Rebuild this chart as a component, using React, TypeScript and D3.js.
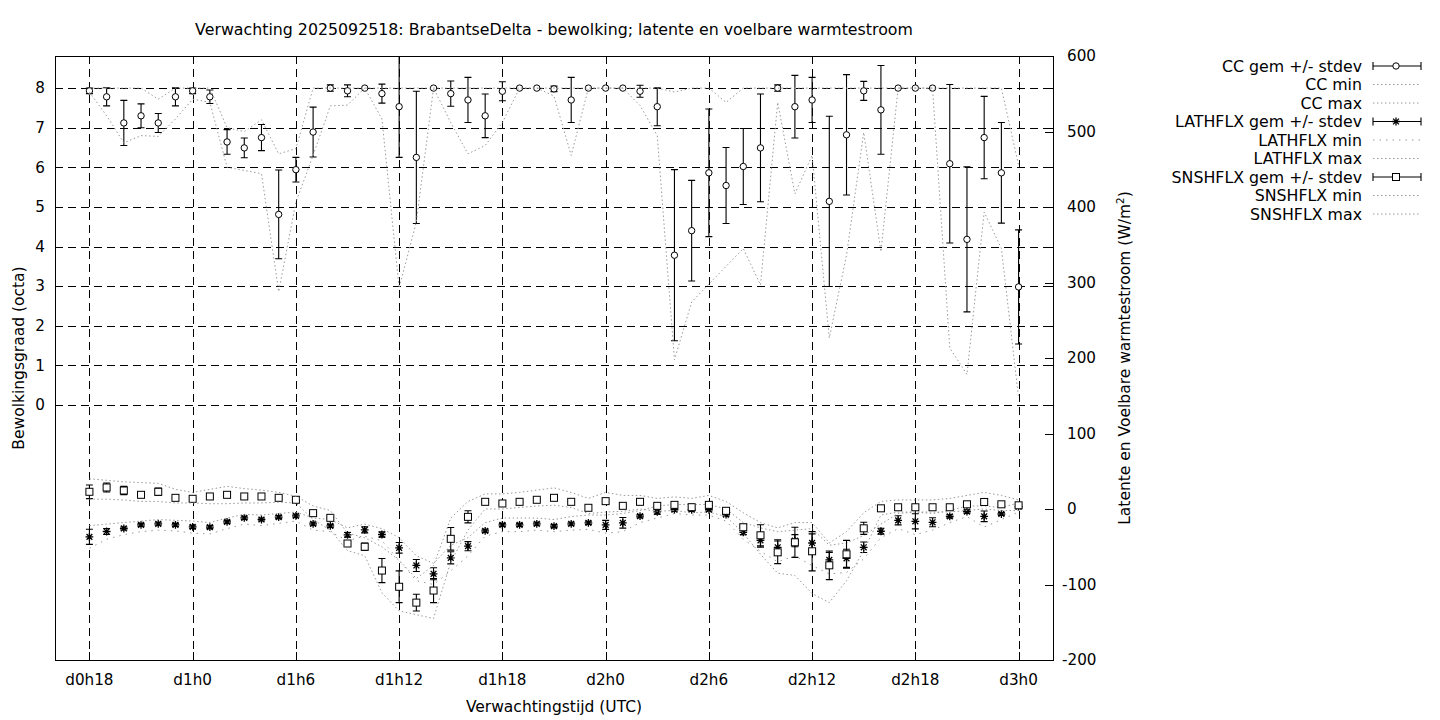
import React from 'react';
import * as d3 from 'd3';

// ---- data (forecast hour since d0h0) ----
const hours = [18,19,20,21,22,23,24,25,26,27,28,29,30,31,32,33,34,35,36,37,38,39,40,41,42,43,44,45,46,47,48,49,50,51,52,53,54,55,56,57,58,59,60,61,62,63,64,65,66,67,68,69,70,71,72];

const xTickHours = [18, 24, 30, 36, 42, 48, 54, 60, 66, 72];
const xTickLabels = ['d0h18', 'd1h0', 'd1h6', 'd1h12', 'd1h18', 'd2h0', 'd2h6', 'd2h12', 'd2h18', 'd3h0'];
const yTicks = [0, 1, 2, 3, 4, 5, 6, 7, 8];
const y2Ticks = [-200, -100, 0, 100, 200, 300, 400, 500, 600];

const ccMean = [7.93,7.78,7.12,7.30,7.12,7.78,7.93,7.78,6.64,6.49,6.75,4.81,5.94,6.89,8.0,7.93,8.0,7.86,7.53,6.25,8.0,7.86,7.70,7.30,7.92,8.0,8.0,7.98,7.70,8.0,8.0,8.0,7.92,7.53,3.78,4.40,5.86,5.54,6.02,6.49,8.0,7.53,7.70,5.14,6.82,7.93,7.45,8.0,8.0,8.0,6.09,4.18,6.75,5.86,2.98];
const ccStd = [0.07,0.23,0.57,0.30,0.24,0.23,0.07,0.17,0.31,0.25,0.33,1.12,0.31,0.63,0.08,0.15,0,0.24,1.28,1.67,0,0.32,0.57,0.55,0.24,0,0,0.07,0.57,0,0,0,0.15,0.48,2.16,1.27,1.61,0.96,0.96,1.36,0.08,0.79,0.57,2.15,1.52,0.24,1.12,0,0,0,2.0,1.83,1.04,1.27,1.44];
const ccMin = [7.9,7.3,6.62,6.8,6.78,7.22,7.72,7.64,6.0,5.92,5.84,2.86,5.12,6.3,7.55,7.57,8.0,7.22,2.95,4.62,8.0,7.13,6.34,6.55,7.13,8.0,8.0,7.8,6.3,8.0,8.0,8.0,7.56,6.8,1.14,2.6,3.05,3.5,3.95,3.03,7.64,5.33,6.3,1.69,3.78,6.88,3.87,8.0,8.0,8.0,1.44,0.77,4.87,3.95,0.18];
const ccMax = [8,8,8,8,7.72,8,8,8,7.0,6.9,7.2,6.34,6.47,8,8,8,8,8,8,8,8,8,8,8,8,8,8,8,8,8,8,8,8,8,7.9,8,8,7.64,8,8,8,8,8,8,8,8,8,8,8,8,8,8,8,8,6.05];

const latMean = [-36.9,-29.8,-25.8,-21,-19.6,-21,-23.6,-24,-17,-11.7,-13.9,-10.8,-9,-19.6,-22.3,-34.2,-27.6,-33.8,-51.4,-74.8,-85.8,-64.7,-49.2,-28.9,-21,-21,-19.6,-22.7,-19.6,-18.3,-21,-18.3,-9.5,-3.8,-1,-1,-1,-7.5,-30.9,-41.5,-50.7,-42,-45,-67.5,-65.3,-50.7,-29.5,-15,-16.3,-17.6,-9.7,-3.5,-9.7,-6.6,3];
const latStd = [10,4,2,2,2,2,2,2,2,2,2,2,2,2,2,3,4,3.5,7,8,8,8,6,2,2,2,2,2,2,2,6,7,2,3,2,2,2,2,3,9,10,8,12,10,12,7,4,6,10,6,2,2,7,2,2];
const latMin = [-52,-40,-34,-30,-28,-29,-32,-33,-26,-20,-22,-19,-16,-28,-30,-42,-36,-42,-68,-95,-100,-82,-62,-36,-30,-30,-28,-30,-28,-27,-32,-30,-18,-12,-6,-8,-8,-16,-40,-56,-70,-62,-75,-86,-84,-66,-38,-26,-34,-28,-18,-10,-24,-14,-4];
const latMax = [-22,-20,-18,-16,-14,-15,-16,-18,-12,-7,-8,-6,-4,-12,-14,-25,-20,-26,-38,-62,-72,-48,-38,-18,-12,-12,-12,-14,-10,-8,-8,-6,-2,4,6,6,6,0,-18,-25,-30,-28,-26,-48,-45,-35,-20,-6,-4,-6,-2,4,4,2,8];

const snsMean = [22.8,28.5,24.5,18.8,22.8,14.8,13.5,16.6,18.8,16.6,16.6,14.8,12.2,-5.5,-11.7,-45.7,-50,-81.5,-103,-124,-108,-39.5,-10.4,9.5,7.3,9.5,12.2,14.8,9.5,1.6,10.4,4.2,9.5,4.2,5.5,2.4,5.5,-2.4,-24.2,-34.8,-57.4,-44.1,-56,-74.6,-60,-25.6,0.9,2.3,2.3,2.3,2.3,6.2,9.3,6.2,4.9];
const snsStd = [9,6,5.5,1,5,1,1,1,3,1,1,1,1,1,1,1,5,16,21,11,16,15,8,1,1,1,1,1,1,3,3,1,1,1,1,1,2,1,4,14,15,20,26,19,18.5,8,1,1,1,1,1,2,4,1,1];
const snsMin = [13,13,12,10,10,8,8,7,7,8,8,9,8,-14,-28,-55,-62,-111,-135,-140,-145,-70,-28,0,0,2,4,5,2,-6,-4,-3,0,-3,-2,-5,-4,-10,-32,-60,-85,-88,-112,-124,-95,-55,-8,-4,-4,-4,-4,-2,0,-2,-2];
const snsMax = [40,38,36,35,34,26,22,26,30,27,25,22,17,4,-2,-32,-38,-50,-68,-92,-75,-12,10,20,20,22,25,28,22,14,22,18,18,14,16,14,18,10,-5,-18,-25,-18,-18,-45,-30,-5,10,12,12,12,14,18,22,18,12];

const legendLabels = ['CC gem +/- stdev', 'CC min', 'CC max', 'LATHFLX gem +/- stdev', 'LATHFLX min', 'LATHFLX max', 'SNSHFLX gem +/- stdev', 'SNSHFLX min', 'SNSHFLX max'];

const FONT = '"DejaVu Sans", sans-serif';
const P = { left: 55, right: 1053, top: 56, bottom: 660 };
const GREY = '#9a9a9a';

type Marker = 'circle' | 'star' | 'square';

function MarkerShape({ kind, cx, cy }: { kind: Marker; cx: number; cy: number }) {
  if (kind === 'circle') return <circle cx={cx} cy={cy} r={3.2} fill="#fff" stroke="#000" strokeWidth={1} />;
  if (kind === 'square') return <rect x={cx - 3.5} y={cy - 3.5} width={7} height={7} fill="#fff" stroke="#000" strokeWidth={1} />;
  const s = 3.9, d = 2.9;
  return (
    <path
      d={`M${cx - s},${cy}H${cx + s}M${cx},${cy - s}V${cy + s}M${cx - d},${cy - d}L${cx + d},${cy + d}M${cx - d},${cy + d}L${cx + d},${cy - d}`}
      stroke="#000"
      strokeWidth={1.3}
      fill="none"
    />
  );
}

export default function App() {
  const x = d3.scaleLinear().domain([16, 74]).range([P.left, P.right]);
  const y = d3.scaleLinear().domain([-6.44, 8.81]).range([P.bottom, P.top]);
  const y2 = d3.scaleLinear().domain([-200, 600]).range([P.bottom, P.top]);

  const crisp = (v: number) => Math.round(v) + 0.5;

  const lineGen = (scale: d3.ScaleLinear<number, number>, vals: number[]) =>
    d3.line<number>().x((_, i) => x(hours[i])).y((v) => scale(v))(vals) || '';

  const errBars = (scale: d3.ScaleLinear<number, number>, mean: number[], sd: number[], kind: Marker, key: string) =>
    hours.map((h, i) => {
      const cx = x(h);
      const cy = scale(mean[i]);
      const yt = scale(mean[i] + sd[i]);
      const yb = scale(mean[i] - sd[i]);
      const cap = 3.5;
      return (
        <g key={key + i}>
          {sd[i] > 0 && (
            <path
              d={`M${cx},${yt}V${yb}M${cx - cap},${yt}H${cx + cap}M${cx - cap},${yb}H${cx + cap}`}
              stroke="#000"
              strokeWidth={1.1}
              fill="none"
            />
          )}
          <MarkerShape kind={kind} cx={cx} cy={cy} />
        </g>
      );
    });

  const legendY = (i: number) => 66 + i * 18.5;
  const legendKinds: (Marker | 'dot' | 'sparse')[] = ['circle', 'dot', 'dot', 'star', 'sparse', 'dot', 'square', 'dot', 'dot'];

  return (
    <svg width={1440} height={720} style={{ position: 'absolute', left: 0, top: 0, background: '#fff' }} fontFamily={FONT}>
      <rect x={0} y={0} width={1440} height={720} fill="#fff" />
      <defs>
        <clipPath id="plotclip">
          <rect x={P.left} y={P.top} width={P.right - P.left} height={P.bottom - P.top} />
        </clipPath>
      </defs>

      {/* grid */}
      <g stroke="#000" strokeWidth={1} strokeDasharray="8,5" shapeRendering="crispEdges">
        {yTicks.map((t) => (
          <line key={'gy' + t} x1={P.left} x2={P.right} y1={crisp(y(t))} y2={crisp(y(t))} />
        ))}
        {xTickHours.map((h) => (
          <line key={'gx' + h} x1={crisp(x(h))} x2={crisp(x(h))} y1={P.top} y2={P.bottom} />
        ))}
      </g>

      {/* ticks */}
      <g stroke="#000" strokeWidth={1} shapeRendering="crispEdges">
        {yTicks.map((t) => (
          <g key={'ty' + t}>
            <line x1={P.left} x2={P.left + 8} y1={crisp(y(t))} y2={crisp(y(t))} />
            <line x1={P.right - 8} x2={P.right} y1={crisp(y(t))} y2={crisp(y(t))} />
          </g>
        ))}
        {y2Ticks.map((t) => (
          <line key={'ty2' + t} x1={P.right - 8} x2={P.right} y1={crisp(y2(t))} y2={crisp(y2(t))} />
        ))}
        {xTickHours.map((h) => (
          <g key={'tx' + h}>
            <line x1={crisp(x(h))} x2={crisp(x(h))} y1={P.bottom - 8} y2={P.bottom} />
            <line x1={crisp(x(h))} x2={crisp(x(h))} y1={P.top} y2={P.top + 8} />
          </g>
        ))}
      </g>

      {/* data */}
      <g clipPath="url(#plotclip)">
        {errBars(y, ccMean, ccStd, 'circle', 'cc')}
        <path d={lineGen(y, ccMin)} fill="none" stroke={GREY} strokeWidth={1} strokeDasharray="1.5,2.5" />
        <path d={lineGen(y, ccMax)} fill="none" stroke={GREY} strokeWidth={1} strokeDasharray="1.5,2.5" />
        {errBars(y2, latMean, latStd, 'star', 'lat')}
        <path d={lineGen(y2, latMin)} fill="none" stroke={GREY} strokeWidth={1} strokeDasharray="1.5,5" />
        <path d={lineGen(y2, latMax)} fill="none" stroke={GREY} strokeWidth={1} strokeDasharray="1.5,2.5" />
        {errBars(y2, snsMean, snsStd, 'square', 'sns')}
        <path d={lineGen(y2, snsMin)} fill="none" stroke={GREY} strokeWidth={1} strokeDasharray="1.5,2.5" />
        <path d={lineGen(y2, snsMax)} fill="none" stroke={GREY} strokeWidth={1} strokeDasharray="1.5,2.5" />
      </g>

      {/* border */}
      <rect x={P.left + 0.5} y={P.top + 0.5} width={P.right - P.left} height={P.bottom - P.top} fill="none" stroke="#000" strokeWidth={1} shapeRendering="crispEdges" />

      {/* tick labels */}
      <g fontSize={15.2} fill="#000">
        {yTicks.map((t) => (
          <text key={'ly' + t} x={45} y={y(t)} dy="0.35em" textAnchor="end">{t}</text>
        ))}
        {y2Ticks.map((t) => (
          <text key={'ly2' + t} x={t < 0 ? 1062 : 1067} y={y2(t)} dy="0.35em" textAnchor="start">{t}</text>
        ))}
        {xTickHours.map((h, i) => (
          <text key={'lx' + h} x={x(h)} y={685} textAnchor="middle">{xTickLabels[i]}</text>
        ))}
      </g>

      {/* title and axis labels */}
      <text x={554} y={35} textAnchor="middle" fontSize={15.8}>Verwachting 2025092518: BrabantseDelta - bewolking; latente en voelbare warmtestroom</text>
      <text x={554} y={712} textAnchor="middle" fontSize={15.5}>Verwachtingstijd (UTC)</text>
      <text transform="translate(24,358) rotate(-90)" textAnchor="middle" fontSize={15.5}>Bewolkingsgraad (octa)</text>
      <text transform="translate(1130,358) rotate(-90)" textAnchor="middle" fontSize={15.5}>
        Latente en Voelbare warmtestroom (W/m<tspan fontSize={10.5} dy={-6}>2</tspan><tspan dy={6}>)</tspan>
      </text>

      {/* legend */}
      <g fontSize={15.8}>
        {legendLabels.map((lab, i) => {
          const ly = legendY(i);
          const k = legendKinds[i];
          return (
            <g key={'leg' + i}>
              <text x={1362} y={ly} dy="0.35em" textAnchor="end">{lab}</text>
              {(k === 'circle' || k === 'star' || k === 'square') ? (
                <g>
                  <path d={`M1373,${ly}H1421M1373,${ly - 4}V${ly + 4}M1421,${ly - 4}V${ly + 4}`} stroke="#000" strokeWidth={1.1} fill="none" />
                  <MarkerShape kind={k} cx={1396} cy={ly} />
                </g>
              ) : (
                <line x1={1373} x2={1421} y1={ly} y2={ly} stroke={GREY} strokeWidth={1} strokeDasharray={k === 'sparse' ? '1.5,5' : '1.5,2.5'} />
              )}
            </g>
          );
        })}
      </g>
    </svg>
  );
}
